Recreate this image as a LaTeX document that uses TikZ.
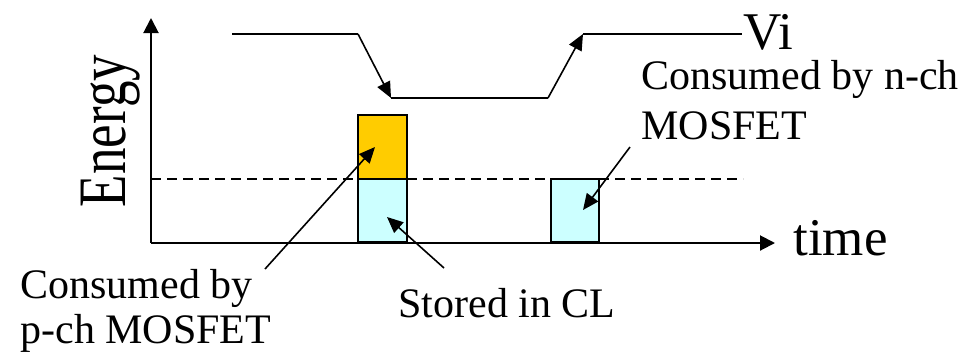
\documentclass[tikz,border=0pt]{standalone}
\usepackage{fontspec}
\setmainfont{Liberation Serif}
\usetikzlibrary{arrows.meta}
\definecolor{barorange}{HTML}{FFCC00}
\definecolor{barcyan}{HTML}{CCFFFF}
\begin{document}
\begin{tikzpicture}[x=0.5pt,y=-0.5pt,
  axis/.style={line width=1pt,-{Triangle[length=7.5pt,width=7.5pt]}},
  wave/.style={line width=0.8pt},
  wavearrow/.style={line width=0.8pt,-{Triangle[length=8pt,width=7pt]}},
  pointer/.style={line width=0.8pt,-{Triangle[length=8pt,width=7pt]}},
  bar/.style={draw=black,line width=0.8pt,inner sep=0pt,minimum width=24.5pt},
  lbl/.style={inner sep=0pt,font=\fontsize{21}{24}\selectfont,anchor=base west},
  big/.style={inner sep=0pt,font=\fontsize{26.5}{30}\selectfont}]
\useasboundingbox (0,0) rectangle (980,355);
% axes
\coordinate (O) at (151,243);
\coordinate (ytip) at (151,18);
\coordinate (xtip) at (775,243);
\draw[axis] (O) -- (ytip);
\draw[axis] (O) -- (xtip);
% dashed level
\coordinate (d1) at (151,179);
\coordinate (d2) at (743,179);
\draw[line width=0.6pt,dash pattern=on 5pt off 3pt] (d1) -- (d2);
% bars
\node[bar,fill=barorange,minimum height=32pt] (pbar) at (382.5,147) {};
\node[bar,fill=barcyan,minimum height=31.5pt] (cbar) at (382.5,210.5) {};
\node[bar,fill=barcyan,minimum height=31.5pt,minimum width=24pt] (nbar) at (575,210.5) {};
% input waveform
\coordinate (w1) at (232,34);
\coordinate (w2) at (358,34);
\coordinate (w3) at (391,98);
\coordinate (w4) at (548,98);
\coordinate (w5) at (583,34);
\coordinate (w6) at (742,34);
\draw[wave] (w1) -- (w2);
\draw[wavearrow] (w2) -- (w3);
\draw[wave] (w3) -- (w4);
\draw[wavearrow] (w4) -- (w5);
\draw[wave] (w5) -- (w6);
% texts
\node[big,anchor=base west] (vi) at (743,49) {Vi};
\node[big,anchor=base west] (time) at (793,255) {time};
\node[big,rotate=90,anchor=base] (energy) at (125,131) {\scalebox{1}[1.28]{Energy}};
\node[lbl] (pl1) at (20,298) {Consumed by};
\node[lbl] (pl2) at (20,343) {p-ch MOSFET};
\node[lbl] (cl) at (398,317) {Stored in CL};
\node[lbl] (nl1) at (641,89) {Consumed by n-ch};
\node[lbl] (nl2) at (641,139) {MOSFET};
% pointers
\coordinate (ptail) at (265,269);
\coordinate (ptip) at (375,147);
\coordinate (ctail) at (444,268);
\coordinate (ctip) at (387,217);
\coordinate (ntail) at (630,147);
\coordinate (ntip) at (583,210);
\draw[pointer] (ptail) -- (ptip);
\draw[pointer] (ctail) -- (ctip);
\draw[pointer] (ntail) -- (ntip);
\end{tikzpicture}
\end{document}
